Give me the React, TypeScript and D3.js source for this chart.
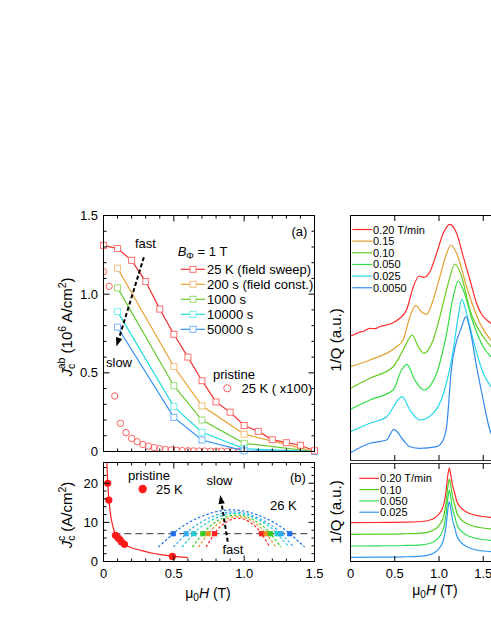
import React from 'react';
import * as d3 from 'd3';

const FONT = "'Liberation Sans', Arial, Helvetica, sans-serif";

// ---------------- Panel (a) data ----------------
const sweepField = [0, 0.1, 0.2, 0.3, 0.4, 0.5, 0.6, 0.7, 0.8, 0.9, 1.0, 1.1, 1.2, 1.3, 1.4, 1.5];
const sweepJc = [1.31, 1.29, 1.215, 1.08, 0.905, 0.745, 0.6, 0.45, 0.315, 0.25, 0.165, 0.128, 0.075, 0.056, 0.04, 0.005];
const relaxField = [0.1, 0.5, 0.7, 1.0, 1.5];
const jc200s = [1.165, 0.54, 0.29, 0.11, 0.0];
const jc1000s = [1.04, 0.418, 0.2, 0.052, 0.0];
const jc10000s = [0.889, 0.285, 0.122, 0.018, 0.0];
const jc50000s = [0.79, 0.217, 0.073, 0.004, 0.0];
const seriesLabelsA = ['25 K (field sweep)', '200 s (field const.)', '1000 s', '10000 s', '50000 s'];
const lineColorsA = ['#f03030', '#e8a030', '#66cc33', '#22dddd', '#3390f0'];
const markColorsA = ['#ff7070', '#f0c080', '#99dd77', '#77eeee', '#77b8ff'];
const pristineField = [0, 0.04, 0.08, 0.12, 0.16, 0.2, 0.24, 0.28, 0.32, 0.36, 0.4, 0.44, 0.48, 0.52, 0.56, 0.6, 0.64, 0.68, 0.72, 0.76, 0.8, 0.84, 0.88, 0.92, 0.96, 1.0];
const pristineJc = [1.143, 1.05, 0.353, 0.179, 0.12, 0.083, 0.062, 0.045, 0.034, 0.025, 0.018, 0.013, 0.01, 0.008, 0.006, 0.005, 0.004, 0.003, 0.003, 0.002, 0.002, 0.002, 0.001, 0.001, 0.001, 0.001];
const aYTicks = [0, 0.5, 1.0, 1.5];
const aYTickLabels = ['0', '0.5', '1.0', '1.5'];

// ---------------- Panel (b) data ----------------
const pristineCField = [0.03, 0.038, 0.085, 0.102, 0.116, 0.128, 0.149, 0.49];
const pristineCJc = [20, 15.7, 6.7, 6.1, 5.6, 5.0, 4.4, 1.3];
const fitField = [0.024, 0.027, 0.03, 0.035, 0.04, 0.05, 0.06, 0.07, 0.085, 0.1, 0.125, 0.15, 0.2, 0.25, 0.35, 0.42, 0.49, 0.6];
const fitJc = [25.3, 22.5, 20, 17.3, 15.2, 12.0, 10.0, 8.5, 6.9, 6.0, 5.0, 4.35, 3.5, 3.0, 2.1, 1.7, 1.35, 1.0];
const criterionJc = 7.1;
const criterionField = [0.07, 1.45];
const arcColors = ['#ff2020', '#e89020', '#33cc22', '#22cccc', '#33aaee', '#2070e8'];
const arcRed = [[0.729, 3.7], [0.789, 7.1], [0.85, 9.5], [0.956, 11.1], [1.062, 9.5], [1.123, 7.1], [1.183, 3.7]];
const arcOrange = [[0.676, 3.7], [0.744, 7.1], [0.83, 10], [0.95, 11.5], [1.07, 10], [1.156, 7.1], [1.224, 3.7]];
const arcGreen = [[0.632, 3.7], [0.706, 7.1], [0.795, 10], [0.946, 11.9], [1.097, 10], [1.187, 7.1], [1.26, 3.7]];
const arcCyan = [[0.558, 3.7], [0.642, 7.1], [0.741, 10], [0.938, 12.3], [1.135, 10], [1.234, 7.1], [1.318, 3.7]];
const arcSky = [[0.497, 3.7], [0.588, 7.1], [0.691, 10], [0.925, 12.7], [1.159, 10], [1.263, 7.1], [1.353, 3.7]];
const arcBlue = [[0.39, 3.7], [0.496, 7.1], [0.635, 10.5], [0.91, 13.2], [1.185, 10.5], [1.324, 7.1], [1.43, 3.7]];
const arcsB = [arcRed, arcOrange, arcGreen, arcCyan, arcSky, arcBlue];
const crossLeft = [0.789, 0.744, 0.706, 0.642, 0.588, 0.496];
const crossRight = [1.123, 1.156, 1.187, 1.234, 1.263, 1.324];
const bYTicks = [0, 10, 20];
const bYTickLabels = ['0', '10', '20'];
const xTicks = [0, 0.5, 1.0, 1.5];
const xTickLabels = ['0', '0.5', '1.0', '1.5'];

// ---------------- Right upper panel data ----------------
const rateLabelsUp = ['0.20 T/min', '0.15', '0.10', '0.050', '0.025', '0.0050'];
const rateColorsUp = ['#ff2a2a', '#e0a030', '#66cc22', '#33dd44', '#22d8e8', '#3388ee'];
const q020 = [[0, 12.57], [0.05, 12.75], [0.1, 12.95], [0.15, 13.05], [0.218, 13.34], [0.28, 13.3], [0.33, 13.5], [0.407, 13.67], [0.47, 13.85], [0.558, 14.34], [0.633, 15.17], [0.708, 17.44], [0.776, 18.57], [0.829, 18.44], [0.897, 19.0], [0.973, 20.84], [1.048, 22.84], [1.122, 23.74], [1.199, 22.84], [1.274, 20.5], [1.35, 18.17], [1.425, 15.84], [1.5, 14.5], [1.55, 14.1], [1.587, 13.84], [1.7, 13.3]];
const q015 = [[0, 9.5], [0.218, 10.17], [0.52, 11.5], [0.595, 12.17], [0.671, 14.5], [0.739, 15.64], [0.8, 15.0], [0.86, 14.74], [0.934, 16.17], [1.01, 18.5], [1.086, 20.84], [1.134, 21.67], [1.199, 20.84], [1.312, 17.5], [1.387, 15.5], [1.463, 13.84], [1.587, 12.17], [1.7, 11.5]];
const q010 = [[0, 7.34], [0.218, 8.34], [0.482, 9.5], [0.595, 11.17], [0.697, 12.67], [0.765, 11.5], [0.829, 10.84], [0.934, 12.17], [1.01, 14.5], [1.104, 17.84], [1.18, 19.77], [1.256, 18.5], [1.35, 15.17], [1.5, 12.5], [1.587, 11.5], [1.7, 10.6]];
const q0050 = [[0, 5.24], [0.218, 6.17], [0.482, 7.17], [0.577, 9.17], [0.637, 9.74], [0.727, 8.17], [0.829, 7.17], [0.973, 8.84], [1.086, 12.84], [1.161, 16.5], [1.217, 18.07], [1.274, 17.17], [1.387, 13.84], [1.5, 11.5], [1.587, 10.5], [1.7, 9.6]];
const q0025 = [[0, 3.0], [0.218, 3.84], [0.407, 4.5], [0.584, 6.5], [0.671, 5.17], [0.784, 4.17], [0.934, 4.84], [1.05, 6.8], [1.161, 11.17], [1.217, 14.5], [1.256, 16.24], [1.312, 14.84], [1.387, 12.17], [1.5, 8.84], [1.587, 7.5], [1.7, 6.5]];
const q00050 = [[0, 0.9], [0.218, 1.84], [0.407, 2.17], [0.49, 3.24], [0.595, 2.17], [0.671, 1.5], [0.784, 1.34], [0.973, 1.5], [1.048, 2.2], [1.086, 3.5], [1.143, 9.5], [1.256, 13.5], [1.304, 14.5], [1.36, 12.8], [1.425, 9.5], [1.5, 6.17], [1.587, 2.84], [1.7, 1.8]];
const curvesUp = [q020, q015, q010, q0050, q0025, q00050];

// ---------------- Right lower panel data ----------------
const rateLabelsLow = ['0.20 T/min', '0.10', '0.050', '0.025'];
const rateColorsLow = ['#ff2a2a', '#55cc22', '#33dd55', '#3399ee'];
const l020 = [[0, 3.83], [0.3, 3.85], [0.6, 3.88], [0.8, 3.95], [0.9, 4.1], [0.95, 4.3], [1.0, 4.7], [1.03, 5.1], [1.06, 5.9], [1.08, 7.0], [1.1, 8.6], [1.116, 9.3], [1.13, 8.8], [1.15, 7.7], [1.18, 6.7], [1.2, 6.0], [1.25, 5.3], [1.3, 4.95], [1.4, 4.6], [1.5, 4.45], [1.6, 4.35], [1.8, 4.25], [2.0, 4.2]];
const l010 = [[0, 2.67], [0.3, 2.69], [0.6, 2.72], [0.8, 2.79], [0.9, 2.94], [0.95, 3.14], [1.0, 3.54], [1.03, 3.94], [1.06, 4.74], [1.08, 5.84], [1.1, 7.44], [1.116, 8.2], [1.13, 7.7], [1.15, 6.55], [1.18, 5.55], [1.2, 4.85], [1.25, 4.15], [1.3, 3.8], [1.4, 3.45], [1.5, 3.3], [1.6, 3.2], [1.8, 3.1], [2.0, 3.05]];
const l0050 = [[0, 1.5], [0.3, 1.52], [0.6, 1.55], [0.8, 1.62], [0.9, 1.77], [0.95, 1.97], [1.0, 2.37], [1.03, 2.77], [1.06, 3.57], [1.08, 4.67], [1.1, 6.27], [1.116, 7.1], [1.13, 6.55], [1.15, 5.4], [1.18, 4.4], [1.2, 3.7], [1.25, 3.0], [1.3, 2.65], [1.4, 2.3], [1.5, 2.15], [1.6, 2.05], [1.8, 1.95], [2.0, 1.9]];
const l0025 = [[0, 0.37], [0.3, 0.39], [0.6, 0.42], [0.8, 0.49], [0.9, 0.64], [0.95, 0.84], [1.0, 1.24], [1.03, 1.64], [1.06, 2.44], [1.08, 3.54], [1.1, 5.14], [1.116, 5.93], [1.13, 5.4], [1.15, 4.25], [1.18, 3.25], [1.2, 2.55], [1.25, 1.85], [1.3, 1.5], [1.4, 1.15], [1.5, 1.0], [1.6, 0.92], [1.8, 0.85], [2.0, 0.8]];
const curvesLow = [l020, l010, l0050, l0025];

// ---------------- scales ----------------
const ax = d3.scaleLinear().domain([0, 1.5]).range([103.5, 314.5]);
const ay = d3.scaleLinear().domain([0, 1.5]).range([451.5, 215.5]);
const by = d3.scaleLinear().domain([0, 25.3]).range([561.5, 462.5]);
const rx = d3.scaleLinear().domain([0, 2]).range([350.5, 527.5]);
const ruy = d3.scaleLinear().domain([0, 24.6]).range([461.7, 215.7]);
const rly = d3.scaleLinear().domain([0, 9.8]).range([561, 463]);

function steps(a: number, b: number, s: number) {
  const out: number[] = [];
  const n = Math.round((b - a) / s);
  for (let i = 0; i <= n; i++) out.push(+(a + i * s).toFixed(4));
  return out;
}

function Arrow({ x1, y1, x2, y2 }: { x1: number; y1: number; x2: number; y2: number }) {
  const dx = x2 - x1, dy = y2 - y1;
  const L = Math.hypot(dx, dy);
  const ux = dx / L, uy = dy / L;
  const hl = 9, hw = 3.2;
  const bx = x2 - ux * hl, by2 = y2 - uy * hl;
  const pts = `${x2},${y2} ${bx - uy * hw},${by2 + ux * hw} ${bx + uy * hw},${by2 - ux * hw}`;
  return (
    <g>
      <line x1={x1} y1={y1} x2={bx} y2={by2} stroke="#000" strokeWidth={2} strokeDasharray="4,2.5" />
      <polygon points={pts} fill="#000" />
    </g>
  );
}

export default function App() {
  const lineA = d3.line<number[]>().x(d => ax(d[0])).y(d => ay(d[1]));
  const lineB = d3.line<number[]>().x(d => ax(d[0])).y(d => by(d[1])).curve(d3.curveMonotoneX);
  const arcLine = d3.line<number[]>().x(d => ax(d[0])).y(d => by(d[1])).curve(d3.curveNatural);
  const lineUp = d3.line<number[]>().x(d => rx(d[0])).y(d => ruy(d[1])).curve(d3.curveMonotoneX);
  const lineLow = d3.line<number[]>().x(d => rx(d[0])).y(d => rly(d[1])).curve(d3.curveMonotoneX);

  const relaxSeries = [jc200s, jc1000s, jc10000s, jc50000s];
  const aL = ax.range()[0], aR = ax.range()[1];
  const aT = ay.range()[1], aB = ay.range()[0];
  const bT = by.range()[1], bB = by.range()[0];
  const rL = rx.range()[0];
  const xMinor = steps(0, 1.5, 0.1);
  const aYMinor = steps(0, 1.5, 0.1);
  const bYMinor = steps(0, 24, 2);

  const isMajor = (v: number, m: number) => Math.abs(v / m - Math.round(v / m)) < 1e-6;
  const sq = 6;

  return (
    <svg width={491} height={635} style={{ position: 'absolute', left: 0, top: 0, background: '#fff' }} fontFamily={FONT}>
      <defs>
        <clipPath id="clipA"><rect x={aL} y={aT} width={aR - aL} height={aB - aT} /></clipPath>
        <clipPath id="clipB"><rect x={aL} y={bT} width={aR - aL} height={bB - bT} /></clipPath>
        <clipPath id="clipRU"><rect x={rL} y={215.5} width={200} height={245} /></clipPath>
        <clipPath id="clipRL"><rect x={rL} y={463.5} width={200} height={98} /></clipPath>
      </defs>
      <rect x={0} y={0} width={491} height={635} fill="#fff" />

      {/* ================= Panel (a) ================= */}
      <g clipPath="url(#clipA)">
        {pristineField.map((h, i) => (
          <circle key={'pc' + i} cx={ax(h)} cy={ay(pristineJc[i])} r={3.2} fill="none" stroke="#ff6060" strokeWidth={1} />
        ))}
        {relaxSeries.map((s, k) => (
          <path key={'rl' + k} d={lineA(relaxField.map((h, i) => [h, s[i]])) || ''} fill="none" stroke={lineColorsA[k + 1]} strokeWidth={1.2} />
        ))}
        <path d={lineA(sweepField.map((h, i) => [h, sweepJc[i]])) || ''} fill="none" stroke={lineColorsA[0]} strokeWidth={1.2} />
      </g>
      {relaxSeries.map((s, k) => (
        <g key={'rm' + k}>
          {relaxField.map((h, i) => (
            <rect key={i} x={ax(h) - sq / 2} y={ay(s[i]) - sq / 2} width={sq} height={sq} fill="#fff" stroke={markColorsA[k + 1]} strokeWidth={1} />
          ))}
        </g>
      ))}
      {sweepField.map((h, i) => (
        <rect key={'sm' + i} x={ax(h) - sq / 2} y={ay(sweepJc[i]) - sq / 2} width={sq} height={sq} fill="#fff" stroke={markColorsA[0]} strokeWidth={1} />
      ))}

      <rect x={aL} y={aT} width={aR - aL} height={aB - aT} fill="none" stroke="#000" strokeWidth={1} />
      {aYMinor.map((v, i) => {
        const L = isMajor(v, 0.5) ? 6 : 3;
        return (
          <g key={'ayt' + i}>
            <line x1={aL} x2={aL + L} y1={ay(v)} y2={ay(v)} stroke="#000" />
            <line x1={aR} x2={aR - L} y1={ay(v)} y2={ay(v)} stroke="#000" />
          </g>
        );
      })}
      {xMinor.map((v, i) => {
        const L = isMajor(v, 0.5) ? 6 : 3;
        return (
          <g key={'axt' + i}>
            <line x1={ax(v)} x2={ax(v)} y1={aB} y2={aB - L} stroke="#000" />
            <line x1={ax(v)} x2={ax(v)} y1={aT} y2={aT + L} stroke="#000" />
          </g>
        );
      })}
      {aYTicks.map((v, i) => (
        <text key={'ayl' + i} x={98} y={ay(v) + 4.5} fontSize={13} textAnchor="end">{aYTickLabels[i]}</text>
      ))}
      <text transform="translate(72,327) rotate(-90)" fontSize={15} textAnchor="middle">
        <tspan fontStyle="italic">J</tspan>
        <tspan fontSize={10.5} dy={3}>c</tspan>
        <tspan fontSize={10.5} dx={-5.5} dy={-10.5}>ab</tspan>
        <tspan dy={7.5}> (10</tspan>
        <tspan fontSize={10.5} dy={-6}>6</tspan>
        <tspan dy={6}> A/cm</tspan>
        <tspan fontSize={10.5} dy={-6}>2</tspan>
        <tspan dy={6}>)</tspan>
      </text>

      <text x={177.7} y={256} fontSize={13}>
        <tspan fontStyle="italic">B</tspan>
        <tspan fontSize={9.5} dy={3}>Φ</tspan>
        <tspan dy={-3}> = 1 T</tspan>
      </text>
      {seriesLabelsA.map((lab, i) => {
        const y = 269.3 + i * 15;
        return (
          <g key={'lg' + i}>
            <line x1={180.7} x2={205} y1={y} y2={y} stroke={lineColorsA[i]} strokeWidth={1.2} />
            <rect x={193 - sq / 2} y={y - sq / 2} width={sq} height={sq} fill="#fff" stroke={markColorsA[i]} />
            <text x={207} y={y + 4.5} fontSize={13}>{lab}</text>
          </g>
        );
      })}
      <text x={291.5} y={236} fontSize={13}>(a)</text>
      <text x={213} y={378.5} fontSize={13}>pristine</text>
      <circle cx={227.3} cy={388.3} r={3.6} fill="none" stroke="#ff6060" />
      <text x={241.5} y={393} fontSize={13}>25 K ( x100)</text>
      <text x={135} y={247.5} fontSize={13}>fast</text>
      <text x={106} y={366.5} fontSize={13}>slow</text>
      <Arrow x1={ax(0.287)} y1={ay(1.235)} x2={ax(0.092)} y2={ay(0.667)} />

      {/* ================= Panel (b) ================= */}
      <g clipPath="url(#clipB)">
        <line x1={ax(criterionField[0])} x2={ax(criterionField[1])} y1={by(criterionJc)} y2={by(criterionJc)} stroke="#333" strokeWidth={1} strokeDasharray="7,4" />
        {arcsB.map((arc, k) => (
          <path key={'arc' + k} d={arcLine(arc) || ''} fill="none" stroke={arcColors[k]} strokeWidth={1.2} strokeDasharray="2.5,2" />
        ))}
        <path d={lineB(fitField.map((h, i) => [h, fitJc[i]])) || ''} fill="none" stroke="#ff2020" strokeWidth={1.2} />
      </g>
      {arcColors.map((c, k) => (
        <g key={'cr' + k}>
          <rect x={ax(crossLeft[k]) - 2.6} y={by(criterionJc) - 2.6} width={5.2} height={5.2} fill={c} />
          <rect x={ax(crossRight[k]) - 2.6} y={by(criterionJc) - 2.6} width={5.2} height={5.2} fill={c} />
        </g>
      ))}
      {pristineCField.map((h, i) => (
        <circle key={'pb' + i} cx={ax(h)} cy={by(pristineCJc[i])} r={3.6} fill="#ff1a1a" />
      ))}
      <rect x={aL} y={bT} width={aR - aL} height={bB - bT} fill="none" stroke="#000" strokeWidth={1} />
      {bYMinor.map((v, i) => {
        const L = isMajor(v, 10) ? 6 : 3;
        return (
          <g key={'byt' + i}>
            <line x1={aL} x2={aL + L} y1={by(v)} y2={by(v)} stroke="#000" />
            <line x1={aR} x2={aR - L} y1={by(v)} y2={by(v)} stroke="#000" />
          </g>
        );
      })}
      {xMinor.map((v, i) => {
        const L = isMajor(v, 0.5) ? 6 : 3;
        return (
          <g key={'bxt' + i}>
            <line x1={ax(v)} x2={ax(v)} y1={bB} y2={bB - L} stroke="#000" />
            <line x1={ax(v)} x2={ax(v)} y1={bT} y2={bT + L} stroke="#000" />
          </g>
        );
      })}
      {bYTicks.map((v, i) => (
        <text key={'byl' + i} x={98} y={by(v) + 4.5} fontSize={13} textAnchor="end">{bYTickLabels[i]}</text>
      ))}
      {xTicks.map((v, i) => (
        <text key={'bxl' + i} x={ax(v)} y={577.5} fontSize={13} textAnchor="middle">{xTickLabels[i]}</text>
      ))}
      <text transform="translate(72,515) rotate(-90)" fontSize={15} textAnchor="middle">
        <tspan fontStyle="italic">J</tspan>
        <tspan fontSize={10.5} dy={3}>c</tspan>
        <tspan fontSize={10.5} dx={-5.5} dy={-10.5}>c</tspan>
        <tspan dy={7.5}> (A/cm</tspan>
        <tspan fontSize={10.5} dy={-6}>2</tspan>
        <tspan dy={6}>)</tspan>
      </text>
      <text x={208} y={598} fontSize={14} textAnchor="middle">
        <tspan>μ</tspan>
        <tspan fontSize={10} dy={3}>0</tspan>
        <tspan fontStyle="italic" dy={-3}>H</tspan>
        <tspan> (T)</tspan>
      </text>
      <text x={128} y={479.5} fontSize={13}>pristine</text>
      <circle cx={142.7} cy={489} r={4.2} fill="#ff1a1a" />
      <text x={156} y={493.5} fontSize={13}>25 K</text>
      <text x={206.5} y={485} fontSize={13}>slow</text>
      <text x={222.5} y={553.5} fontSize={13}>fast</text>
      <text x={270} y={510} fontSize={13}>26 K</text>
      <text x={290} y={482} fontSize={13}>(b)</text>
      <Arrow x1={ax(0.883)} y1={by(5.06)} x2={ax(0.83)} y2={by(17.0)} />

      {/* ================= Right upper panel ================= */}
      <g clipPath="url(#clipRU)">
        {curvesUp.map((c, k) => (
          <path key={'cu' + k} d={lineUp(c) || ''} fill="none" stroke={rateColorsUp[k]} strokeWidth={1.2} />
        ))}
      </g>
      <line x1={rL} x2={rL} y1={215.5} y2={460.5} stroke="#000" />
      <line x1={rL} x2={530} y1={215.5} y2={215.5} stroke="#000" />
      <line x1={rL} x2={530} y1={460.5} y2={460.5} stroke="#333" />
      {xTicks.map((v, i) => (
        <g key={'rut' + i}>
          <line x1={rx(v)} x2={rx(v)} y1={215.5} y2={221} stroke="#000" />
          <line x1={rx(v)} x2={rx(v)} y1={460.5} y2={455} stroke="#000" />
        </g>
      ))}
      <text transform="translate(341,340) rotate(-90)" fontSize={15} textAnchor="middle">1/Q (a.u.)</text>
      {rateLabelsUp.map((lab, i) => {
        const y = 229.5 + i * 11.65;
        return (
          <g key={'lu' + i}>
            <line x1={352.3} x2={372.3} y1={y} y2={y} stroke={rateColorsUp[i]} strokeWidth={1.2} />
            <text x={373} y={y + 4} fontSize={11}>{lab}</text>
          </g>
        );
      })}

      {/* ================= Right lower panel ================= */}
      <g clipPath="url(#clipRL)">
        {curvesLow.map((c, k) => (
          <path key={'cl' + k} d={lineLow(c) || ''} fill="none" stroke={rateColorsLow[k]} strokeWidth={1.2} />
        ))}
      </g>
      <line x1={rL} x2={rL} y1={463.5} y2={561.5} stroke="#000" />
      <line x1={rL} x2={530} y1={463.5} y2={463.5} stroke="#333" />
      <line x1={rL} x2={530} y1={561.5} y2={561.5} stroke="#000" />
      {xTicks.map((v, i) => (
        <g key={'rlt' + i}>
          <line x1={rx(v)} x2={rx(v)} y1={463.5} y2={469} stroke="#000" />
          <line x1={rx(v)} x2={rx(v)} y1={561.5} y2={556} stroke="#000" />
          <text x={rx(v)} y={577.5} fontSize={13} textAnchor="middle">{xTickLabels[i]}</text>
        </g>
      ))}
      <text transform="translate(341,512) rotate(-90)" fontSize={15} textAnchor="middle">1/Q (a.u.)</text>
      <text x={435} y={595} fontSize={14} textAnchor="middle">
        <tspan>μ</tspan>
        <tspan fontSize={10} dy={3}>0</tspan>
        <tspan fontStyle="italic" dy={-3}>H</tspan>
        <tspan> (T)</tspan>
      </text>
      {rateLabelsLow.map((lab, i) => {
        const y = 478.3 + i * 11.3;
        return (
          <g key={'ll' + i}>
            <line x1={359.3} x2={379} y1={y} y2={y} stroke={rateColorsLow[i]} strokeWidth={1.2} />
            <text x={380} y={y + 4} fontSize={11}>{lab}</text>
          </g>
        );
      })}
    </svg>
  );
}
